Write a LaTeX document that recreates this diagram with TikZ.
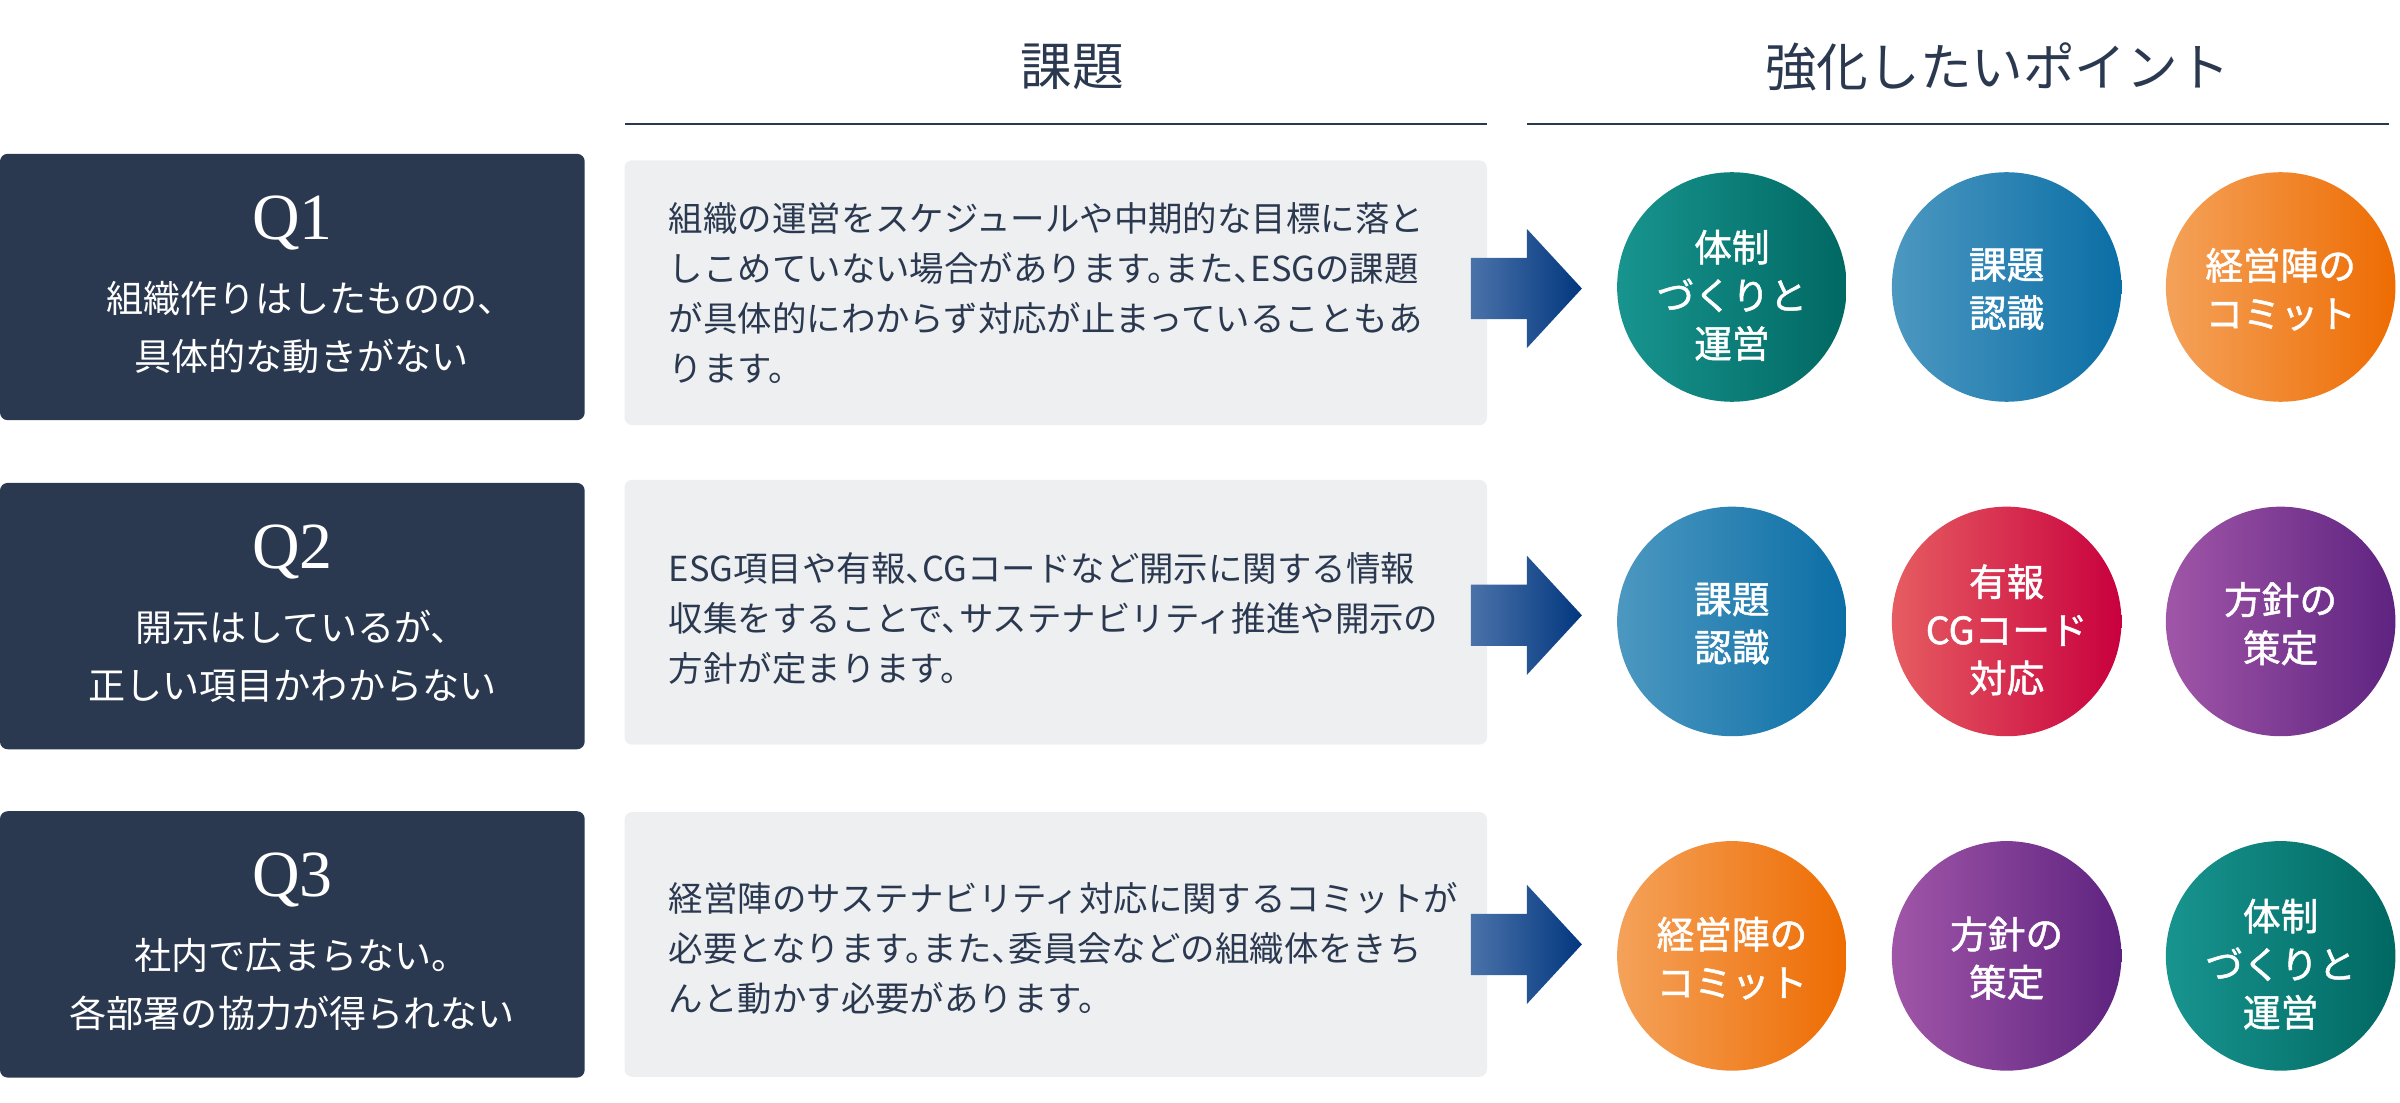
\documentclass[tikz,border=0pt]{standalone}
\usepackage{fontspec}
\setmainfont{Noto Sans CJK JP}
\newfontfamily\qfont{Liberation Serif}
\newfontfamily\ptfont[FakeBold=1.3]{Noto Sans CJK JP}
\newcommand\tsume{\kern-0.5em}
\usetikzlibrary{positioning}
\definecolor{navy}{HTML}{2B3950}
\definecolor{paper}{HTML}{EEEFF1}
\definecolor{arrL}{HTML}{4A72A9}
\definecolor{arrR}{HTML}{02377F}
\definecolor{tealL}{HTML}{18948F}
\definecolor{tealR}{HTML}{016862}
\definecolor{blueL}{HTML}{4C98C1}
\definecolor{blueR}{HTML}{0B6EA5}
\definecolor{orgL}{HTML}{F4A25A}
\definecolor{orgR}{HTML}{EE6C02}
\definecolor{redL}{HTML}{E65D61}
\definecolor{redR}{HTML}{C8003E}
\definecolor{purL}{HTML}{A056A8}
\definecolor{purR}{HTML}{5E2380}
\tikzset{
  head/.style={text=navy, inner sep=0pt, font=\fontsize{19.2}{22}\selectfont},
  rule/.style={draw=navy, line width=0.8pt},
  qbox/.style={fill=navy, rounded corners=1mm, minimum width=7.64cm, minimum height=3.48cm, inner sep=0pt},
  qlabel/.style={text=white, inner sep=0pt, font=\qfont\fontsize{24.5}{26}\selectfont},
  qtext/.style={text=white, inner sep=0pt, align=center, font=\fontsize{13.8}{21.6}\selectfont},
  gbox/.style={fill=paper, rounded corners=1mm, minimum width=11.27cm, minimum height=3.46cm, inner sep=0pt},
  gtext/.style={text=navy, inner sep=0pt, align=left, font=\fontsize{12.8}{18.6}\selectfont},
  arrowfill/.style={left color=arrL, right color=arrR},
  point/.style={circle, minimum size=3cm, inner sep=0pt},
  ptext/.style={text=white, inner sep=0pt, align=center, font=\ptfont\fontsize{14}{17.9}\selectfont},
  teal/.style={point, left color=tealL, right color=tealR},
  blue/.style={point, left color=blueL, right color=blueR},
  org/.style={point, left color=orgL, right color=orgR},
  red/.style={point, left color=redL, right color=redR},
  pur/.style={point, left color=purL, right color=purR}
}
\begin{document}
\begin{tikzpicture}
\useasboundingbox (0,0) rectangle (31.36,-14.4);
\node[head] (h1) at (14.01,-0.87) {課題};
\node[head] (h2) at (26.1,-0.87) {強化したいポイント};
\draw[rule] (8.17,-1.62) -- (19.43,-1.62);
\draw[rule] (19.95,-1.62) -- (31.22,-1.62);

\node[qbox] (q1) at (3.82,-3.75) {};
\node[qbox] (q2) at (3.82,-8.05) {};
\node[qbox] (q3) at (3.82,-12.34) {};
\node[qlabel, anchor=base] (q1n) at ([yshift=-1.12cm]q1.north) {Q1};
\node[qlabel, anchor=base] (q2n) at ([yshift=-1.12cm]q2.north) {Q2};
\node[qlabel, anchor=base] (q3n) at ([yshift=-1.12cm]q3.north) {Q3};
\node[qtext] (q1t) at ([xshift=0.12cm,yshift=-2.27cm]q1.north) {組織作りはしたものの、\tsume\\具体的な動きがない};
\node[qtext] (q2t) at ([yshift=-2.27cm]q2.north) {開示はしているが、\tsume\\正しい項目かわからない};
\node[qtext] (q3t) at ([yshift=-2.27cm]q3.north) {社内で広まらない。\tsume\\各部署の協力が得られない};

\node[gbox] (g1) at (13.795,-3.825) {};
\node[gbox] (g2) at (13.795,-8.0) {};
\node[gbox] (g3) at (13.795,-12.34) {};
\node[gtext, anchor=west] (g1t) at ([xshift=0.58cm]g1.west) {組織の運営をスケジュールや中期的な目標に落と\\しこめていない場合があります。\tsume また、\tsume ESGの課題\\が具体的にわからず対応が止まっていることもあ\\ります。};
\node[gtext, anchor=west] (g2t) at ([xshift=0.58cm,yshift=-0.08cm]g2.west) {ESG項目や有報、\tsume CGコードなど開示に関する情報\\収集をすることで、\tsume サステナビリティ推進や開示の\\方針が定まります。};
\node[gtext, anchor=west] (g3t) at ([xshift=0.58cm,yshift=-0.05cm]g3.west) {経営陣のサステナビリティ対応に関するコミットが\\必要となります。\tsume また、\tsume 委員会などの組織体をきち\\んと動かす必要があります。};

\shade[arrowfill] (19.22,-3.77) +(0,0.40) -- +(0.73,0.40) -- +(0.73,0.78) -- +(1.45,0) -- +(0.73,-0.78) -- +(0.73,-0.40) -- +(0,-0.40) -- cycle;
\shade[arrowfill] (19.22,-8.04) +(0,0.40) -- +(0.73,0.40) -- +(0.73,0.78) -- +(1.45,0) -- +(0.73,-0.78) -- +(0.73,-0.40) -- +(0,-0.40) -- cycle;
\shade[arrowfill] (19.22,-12.34) +(0,0.40) -- +(0.73,0.40) -- +(0.73,0.78) -- +(1.45,0) -- +(0.73,-0.78) -- +(0.73,-0.40) -- +(0,-0.40) -- cycle;

\node[teal] (p11) at (22.63,-3.75) {};
\node[blue] (p12) at (26.22,-3.75) {};
\node[org] (p13) at (29.8,-3.75) {};
\node[blue] (p21) at (22.63,-8.12) {};
\node[red] (p22) at (26.22,-8.12) {};
\node[pur] (p23) at (29.8,-8.12) {};
\node[org] (p31) at (22.63,-12.49) {};
\node[pur] (p32) at (26.22,-12.49) {};
\node[teal] (p33) at (29.8,-12.49) {};
\node[ptext] (p11t) at ([yshift=-0.11cm]p11) {体制\\づくりと\\運営};
\node[ptext] (p12t) at ([yshift=-0.03cm]p12) {課題\\認識};
\node[ptext] (p13t) at ([yshift=-0.03cm]p13) {経営陣の\\コミット};
\node[ptext] (p21t) at ([yshift=-0.03cm]p21) {課題\\認識};
\node[ptext] (p22t) at ([yshift=-0.11cm]p22) {有報\\CGコード\\対応};
\node[ptext] (p23t) at ([yshift=-0.03cm]p23) {方針の\\策定};
\node[ptext] (p31t) at ([yshift=-0.03cm]p31) {経営陣の\\コミット};
\node[ptext] (p32t) at ([yshift=-0.03cm]p32) {方針の\\策定};
\node[ptext] (p33t) at ([yshift=-0.11cm]p33) {体制\\づくりと\\運営};
\end{tikzpicture}
\end{document}
